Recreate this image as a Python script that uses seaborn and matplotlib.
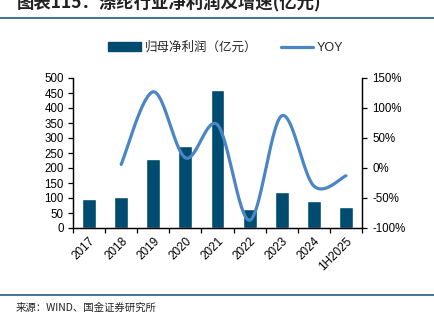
import numpy as np
import pandas as pd
import matplotlib
matplotlib.use("Agg")
import matplotlib.pyplot as plt
import seaborn as sns
from matplotlib.patches import Patch
from matplotlib.lines import Line2D

categories = ["2017", "2018", "2019", "2020", "2021", "2022", "2023", "2024", "1H2025"]
profit = [96, 102, 231, 272, 459, 63, 119, 89, 69]
yoy_cats = ["2018", "2019", "2020", "2021", "2022", "2023", "2024", "1H2025"]
yoy = [6, 127, 17, 72, -87, 87, -30, -13]

bar_color = "#004B70"
line_color = "#4A86C6"

sns.set_theme(style="white")
plt.rcParams['font.family'] = ['Liberation Sans', 'Noto Sans CJK SC', 'DejaVu Sans']

fig = plt.figure(figsize=(4.35, 3.23), dpi=100)
ax = fig.add_axes([73/435, 1-228/323, (362-73)/435, 150/323])

df = pd.DataFrame({"cat": categories, "profit": profit})
sns.barplot(data=df, x="cat", y="profit", color=bar_color, width=0.43, ax=ax,
            saturation=1, order=categories)
ax.set_xlim(-0.5, len(categories) - 0.5)
ax.set_ylim(0, 500)
ax.set_yticks(np.arange(0, 501, 50))
ax.set_xlabel("")
ax.set_ylabel("")

# smoothed YOY line (Excel-like bezier smoothing)
xs = np.array([categories.index(c) for c in yoy_cats], dtype=float)
ys = np.array(yoy, dtype=float)
P = np.column_stack([xs, ys])
n = len(P)
curve = []
for i in range(n - 1):
    p0 = P[i - 1] if i > 0 else P[i]
    p1 = P[i]
    p2 = P[i + 1]
    p3 = P[i + 2] if i + 2 < n else P[i + 1]
    c1 = p1 + (p2 - p0) / 6
    c2 = p2 - (p3 - p1) / 6
    t = np.linspace(0, 1, 40)[:, None]
    seg = (1 - t) ** 3 * p1 + 3 * (1 - t) ** 2 * t * c1 + 3 * (1 - t) * t ** 2 * c2 + t ** 3 * p2
    curve.append(seg if i == 0 else seg[1:])
curve = np.vstack(curve)

ax2 = ax.twinx()
sns.lineplot(x=curve[:, 0], y=curve[:, 1], sort=False, ax=ax2, color=line_color,
             linewidth=2.3, estimator=None)
ax2.set_ylim(-100, 150)
ax2.set_yticks(np.arange(-100, 151, 50))
ax2.set_yticklabels([f"{v}%" for v in range(-100, 151, 50)])
ax2.set_xlim(-0.5, len(categories) - 0.5)

for a in (ax, ax2):
    for s in a.spines.values():
        s.set_color("black")
        s.set_linewidth(0.9)
    a.spines["top"].set_visible(False)
    a.grid(False)

ax.set_xticks(range(len(categories)))
ax.set_xticklabels(categories, rotation=45, ha="right", rotation_mode="anchor")
ax.set_xticks(np.arange(-0.5, len(categories), 1), minor=True)
ax.tick_params(axis="x", which="major", length=0, labelsize=8.5, pad=5, colors="black")
ax.tick_params(axis="x", which="minor", length=3.5, width=0.9, direction="out",
               bottom=True, color="black")
ax.tick_params(axis="y", length=3.5, width=0.9, direction="out", left=True,
               labelsize=8.3, pad=3, colors="black")
ax2.tick_params(axis="y", length=3.5, width=0.9, direction="out", right=True,
                labelsize=8.3, pad=4, colors="black")

# title
fig.text(17/435, 1 - 2/323, "图表115：涤纶行业净利润及增速(亿元)", fontsize=12.5,
         fontweight="bold", style="italic", color="#222222", va="center", ha="left",
         family=['Noto Sans CJK SC', 'DejaVu Sans'])
fig.add_artist(Line2D([0, 1], [1 - 17.5/323, 1 - 17.5/323], transform=fig.transFigure,
                      color="#1F5E82", linewidth=1.2))
fig.add_artist(Line2D([0, 1], [1 - 295/323, 1 - 295/323], transform=fig.transFigure,
                      color="#1F5E82", linewidth=1.2))
fig.text(16/435, 1 - 308/323, "来源：WIND、国金证券研究所", fontsize=7.5, color="#222222",
         va="center", ha="left", family=['Noto Sans CJK SC', 'DejaVu Sans'])

handles = [Patch(facecolor=bar_color, edgecolor=bar_color),
           Line2D([0], [0], color=line_color, linewidth=2.3)]
fig.legend(handles, ["归母净利润（亿元）", "YOY"], loc="center",
           bbox_to_anchor=(226/435, 1 - 48/323), ncol=2, frameon=False,
           handlelength=2.6, handletextpad=0.3, columnspacing=1.9,
           prop={'family': ['Liberation Sans', 'Noto Sans CJK SC'], 'size': 9})

fig.savefig("out.png", dpi=100)
